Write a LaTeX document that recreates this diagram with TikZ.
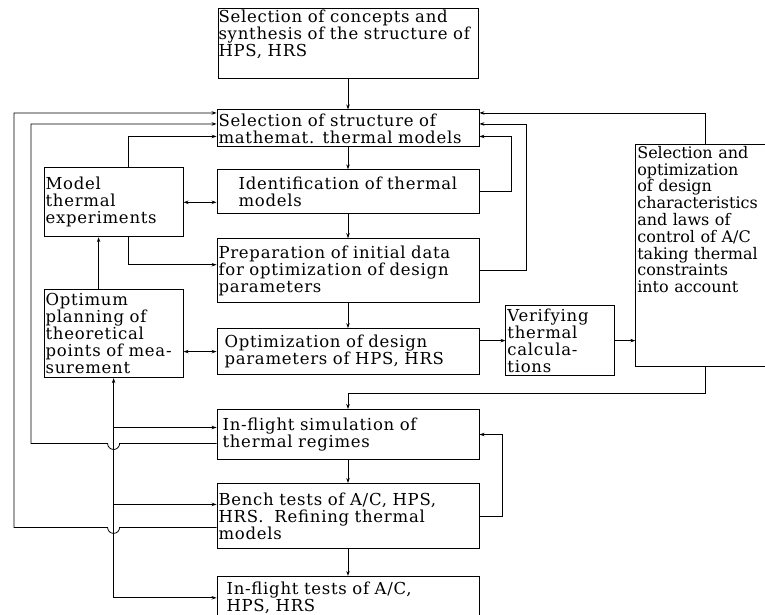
\documentclass[tikz,border=0pt]{standalone}
\usepackage{fontspec}
\setmainfont{DejaVu Serif}[LetterSpace=4.5]
\usepackage{tikz}
\usetikzlibrary{arrows.meta,positioning,calc}
\tikzset{
  box/.style={draw, line width=0.9pt, align=left, inner sep=1.5pt,
              font=\fontsize{16.5}{17}\selectfont, text width=#1},
  box/.default=259pt,
  flow/.style={-{Stealth[length=5pt,width=3.5pt]}, line width=0.8pt},
  flowb/.style={{Stealth[length=5pt,width=3.5pt]}-{Stealth[length=5pt,width=3.5pt]}, line width=0.8pt},
}

\begin{document}
\begin{tikzpicture}[x=1pt,y=1pt]
  \useasboundingbox (0,0) rectangle (765,-615);
  % centre column
  \node[box, inner xsep=0.5pt] (top) at (348,-43)
    {\parbox[c][67pt][t]{262pt}{Selection of concepts and\\synthesis of the structure of\\HPS, HRS}};
  \node[box, minimum height=37pt, below=31pt of top] (sel) {Selection of structure of\\mathemat. thermal models};
  \node[box, minimum height=44pt, below=22pt of sel] (ident) {\hspace*{20pt}Identification of thermal\\\hspace*{20pt}models};
  \node[box, minimum height=64pt, below=24pt of ident] (prep) {Preparation of initial data\\for optimization of design\\parameters};
  \node[box, minimum height=46pt, below=25pt of prep] (optim) {\hspace*{6pt}Optimization of design\\\hspace*{6pt}parameters of HPS, HRS};
  \node[box, minimum height=50pt, below=34pt of optim] (insim) {\hspace*{4pt}In-flight simulation of\\\hspace*{4pt}thermal regimes};
  \node[box, minimum height=65pt, below=23pt of insim] (bench) {Bench tests of A/C, HPS,\\HRS.\ \ Refining thermal\\models};
  \node[box, minimum height=43pt, below=27pt of bench] (inft) {\hspace*{8pt}In-flight tests of A/C,\\\hspace*{8pt}HPS, HRS};
  % left column
  \node[box=136pt, minimum height=69pt, left=33pt of ident.west, yshift=-10.5pt] (model) {Model\\thermal\\experiments};
  \node[box=136pt, minimum height=88pt, below=52pt of model] (plan) {Optimum\\planning of\\theoretical\\points of mea-\\surement};
  % right side
  \node[box=106pt, minimum height=70pt, right=26pt of optim, yshift=11pt] (verify) {Verifying\\thermal\\calcula-\\tions};
  \node[box, inner sep=1.5pt, right=20pt of verify, yshift=85pt] (ctrl)
    {\parbox[c][219pt][t]{142pt}{\addfontfeature{LetterSpace=0}\fontsize{16}{16.8}\selectfont
     Selection and\\optimization\\of design\\characteristics\\and laws of\\control of A/C\\taking thermal\\constraints\\into account}};

  \coordinate (sl1) at ([yshift=-3.5pt]sel.north west);
  \coordinate (sl2) at ([yshift=-14.5pt]sel.north west);
  \coordinate (sl3) at ([yshift=-27pt]sel.north west);
  \coordinate (sr1) at ([yshift=-3.5pt]sel.north east);
  \coordinate (sr2) at ([yshift=-14.5pt]sel.north east);
  \coordinate (sr3) at ([yshift=-27pt]sel.north east);
  \coordinate (lane1) at (14,0);
  \coordinate (lane2) at (31,0);
  \coordinate (b1) at ([yshift=7pt]insim.west);
  \coordinate (b2) at ([yshift=-9pt]insim.west);
  \coordinate (c1) at ([yshift=11.5pt]bench.west);
  \coordinate (c2) at ([yshift=-11.5pt]bench.west);
  \coordinate (tb) at (plan.south |- inft.west);

  \draw[flow] (top) -- (sel);
  \draw[flow] (sel) -- (ident);
  \draw[flow] (ident) -- (prep);
  \draw[flow] (prep) -- (optim);
  \draw[flow] (insim) -- (bench);
  \draw[flow] (bench) -- (inft);
  \draw[flow] (verify.west -| optim.east) -- (verify.west);
  \draw[flow] (verify.east) -- (verify.east -| ctrl.west);

  % feedback to the model structure
  \draw[flow] ([xshift=70pt]ctrl.north west) |- (sr1);
  \draw[flow] (ident.east) -- ++(32pt,0) |- (sr3);
  \draw[flow] (prep.east) -- ++(47pt,0) |- (sr2);
  \draw[flow] ([xshift=70pt]ctrl.south west) |- ([yshift=16pt]insim.north) -- (insim.north);
  \draw[flow] (bench.east) -- ++(23pt,0) |- (insim.east);

  \draw[flow] ([xshift=15pt]model.north) |- (sl3);
  \draw[flow] ([xshift=15pt]model.south) |- ([yshift=6pt]prep.west);
  \draw[flowb] (model.east) -- (model.east -| ident.west);
  \draw[flow] ([xshift=-15pt]plan.north) -- ([xshift=-15pt]model.south);
  \draw[flowb] (optim.west) -- (optim.west -| plan.east);

  % measurement planning trunk
  \draw[flow] (tb) -- (plan.south);
  \draw[flow] (tb) -- (inft.west);
  \draw[flow] (plan.south |- b1) -- (b1);
  \draw[flow] (plan.south |- c1) -- (c1);

  % outer loops with line jumps
  \draw[flow] (b2) -- ($(plan.south |- b2)+(6pt,0)$) arc[start angle=0, end angle=-180, radius=6pt]
    -- (lane2 |- b2) |- (sl2);
  \draw[flow] (c2) -- ($(plan.south |- c2)+(6pt,0)$) arc[start angle=0, end angle=-180, radius=6pt]
    -- (lane1 |- c2) |- (sl1);
\end{tikzpicture}
\end{document}
